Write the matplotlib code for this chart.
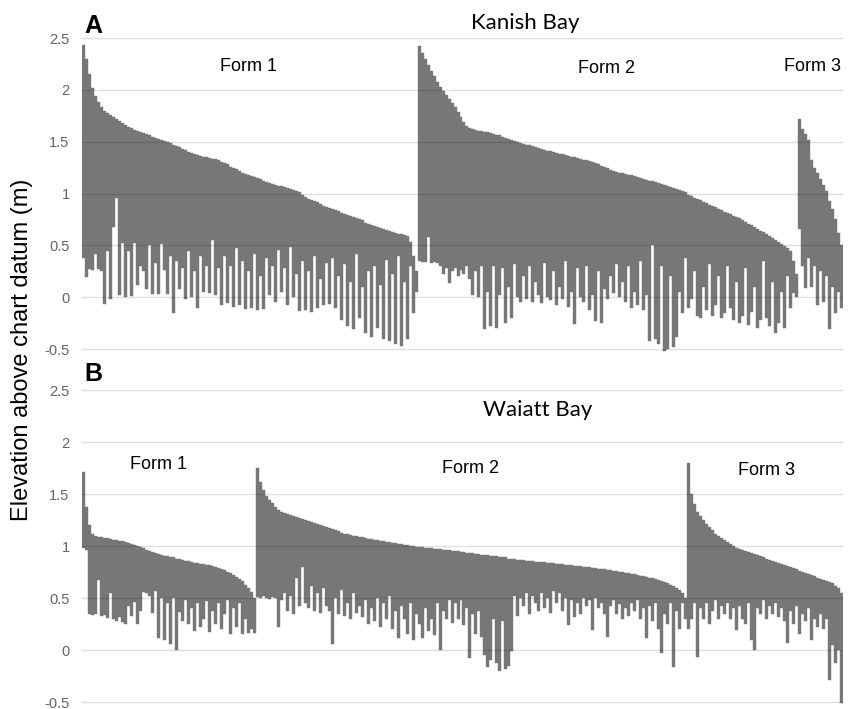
import numpy as np
import matplotlib
matplotlib.use("Agg")
import matplotlib.pyplot as plt

plt.rcParams['font.family'] = ['Liberation Sans', 'DejaVu Sans']

# Kanish Bay (panel A): top and bottom elevation of each bar, sorted per form
kanish_f1_top = [2.43, 2.30, 2.15, 2.02, 1.94, 1.88, 1.83, 1.80, 1.78, 1.76,
                 1.74, 1.72, 1.70, 1.68, 1.66, 1.64, 1.63, 1.61, 1.60, 1.59,
                 1.58, 1.57, 1.56, 1.55, 1.54, 1.53, 1.52, 1.51, 1.50, 1.49,
                 1.47, 1.46, 1.45, 1.43, 1.42, 1.40, 1.39, 1.38, 1.37, 1.36,
                 1.35, 1.35, 1.34, 1.33, 1.33, 1.32, 1.30, 1.29, 1.28, 1.26,
                 1.25, 1.24, 1.22, 1.20, 1.19, 1.18, 1.17, 1.16, 1.15, 1.14,
                 1.12, 1.11, 1.10, 1.09, 1.08, 1.07, 1.07, 1.06, 1.05, 1.04,
                 1.03, 1.02, 1.01, 0.99, 0.97, 0.95, 0.94, 0.93, 0.92, 0.90,
                 0.88, 0.87, 0.86, 0.85, 0.84, 0.83, 0.81, 0.80, 0.79, 0.78,
                 0.77, 0.76, 0.75, 0.74, 0.72, 0.71, 0.70, 0.69, 0.68, 0.67,
                 0.66, 0.65, 0.64, 0.63, 0.62, 0.61, 0.61, 0.60, 0.59, 0.53,
                 0.40, 0.25]
kanish_f1_low = [0.38, 0.19, 0.27, 0.26, 0.42, 0.27, 0.25, -0.07, 0.45, -0.02,
                 0.68, 0.96, 0.02, 0.52, 0.00, 0.45, 0.01, 0.52, 0.12, 0.30,
                 0.25, 0.08, 0.50, 0.03, 0.33, 0.03, 0.51, 0.26, 0.03, 0.40,
                 -0.15, 0.35, 0.08, 0.28, -0.02, 0.45, 0.00, 0.25, -0.10, 0.40,
                 0.05, 0.30, 0.04, 0.55, 0.02, 0.28, -0.08, 0.40, -0.06, 0.30,
                 -0.09, 0.47, -0.08, 0.35, -0.11, 0.25, -0.10, 0.42, -0.12, 0.20,
                 -0.11, 0.38, 0.02, 0.30, -0.05, 0.46, 0.05, 0.28, -0.08, 0.48,
                 0.00, 0.22, -0.13, 0.35, -0.12, 0.25, -0.14, 0.40, -0.10, 0.18,
                 -0.08, 0.33, -0.07, 0.38, -0.10, 0.20, -0.22, 0.32, -0.28, 0.15,
                 -0.31, 0.42, -0.20, 0.10, -0.35, 0.25, -0.38, 0.30, -0.30, 0.12,
                 -0.40, 0.36, -0.42, 0.22, -0.45, 0.40, -0.47, 0.15, -0.40, 0.30,
                 -0.15, 0.05]

kanish_f2_top = [2.42, 2.36, 2.30, 2.24, 2.18, 2.13, 2.08, 2.03, 1.99, 1.95,
                 1.91, 1.87, 1.83, 1.79, 1.74, 1.69, 1.65, 1.63, 1.62, 1.61,
                 1.60, 1.60, 1.59, 1.59, 1.58, 1.57, 1.56, 1.56, 1.55, 1.54,
                 1.53, 1.52, 1.51, 1.50, 1.49, 1.48, 1.47, 1.47, 1.46, 1.45,
                 1.44, 1.43, 1.42, 1.41, 1.41, 1.40, 1.39, 1.38, 1.38, 1.37,
                 1.36, 1.35, 1.35, 1.34, 1.33, 1.32, 1.32, 1.31, 1.30, 1.29,
                 1.28, 1.27, 1.26, 1.25, 1.23, 1.22, 1.21, 1.20, 1.20, 1.19,
                 1.18, 1.18, 1.17, 1.16, 1.15, 1.14, 1.13, 1.12, 1.12, 1.11,
                 1.10, 1.09, 1.08, 1.07, 1.06, 1.05, 1.04, 1.03, 1.02, 1.01,
                 0.99, 0.98, 0.96, 0.95, 0.94, 0.92, 0.91, 0.89, 0.88, 0.87,
                 0.85, 0.84, 0.82, 0.81, 0.80, 0.78, 0.77, 0.76, 0.74, 0.73,
                 0.71, 0.70, 0.68, 0.66, 0.64, 0.63, 0.61, 0.59, 0.57, 0.55,
                 0.53, 0.51, 0.49, 0.47, 0.45, 0.35, 0.22]
kanish_f2_low = [0.35, 0.34, 0.34, 0.58, 0.33, 0.34, 0.33, 0.30, 0.22, 0.28,
                 0.14, 0.25, 0.28, 0.20, 0.26, 0.22, 0.30, 0.18, 0.02, 0.25,
                 0.00, 0.30, -0.31, 0.05, -0.28, 0.30, -0.30, 0.02, 0.28, -0.25,
                 0.10, -0.20, 0.32, 0.00, -0.05, 0.20, -0.02, 0.30, -0.05, 0.15,
                 0.02, -0.06, 0.33, 0.00, -0.03, 0.25, -0.08, 0.10, -0.02, 0.35,
                 -0.09, 0.05, -0.26, 0.28, 0.00, -0.05, 0.30, -0.12, 0.02, -0.23,
                 0.25, -0.25, 0.08, -0.02, 0.20, 0.04, 0.32, 0.00, 0.15, -0.05,
                 0.30, -0.10, 0.05, -0.08, 0.35, -0.12, 0.02, -0.42, 0.50, -0.40,
                 -0.45, 0.30, -0.52, -0.50, 0.20, -0.48, -0.38, 0.05, -0.15, 0.38,
                 -0.10, -0.02, 0.25, -0.18, -0.20, 0.10, -0.12, 0.32, -0.18, -0.08,
                 0.20, -0.20, -0.15, 0.30, -0.10, -0.22, 0.15, -0.25, -0.18, 0.28,
                 -0.27, -0.14, 0.10, -0.30, -0.22, 0.35, -0.20, -0.28, 0.15, -0.35,
                 -0.25, 0.05, -0.30, 0.20, -0.10, 0.04, 0.00]

kanish_f3_top = [1.72, 1.62, 1.57, 1.52, 1.32, 1.25, 1.20, 1.14, 1.08, 1.02,
                 0.93, 0.85, 0.75, 0.62, 0.50]
kanish_f3_low = [0.66, 0.30, 0.09, 0.38, 0.10, 0.30, -0.08, 0.25, -0.05, 0.20,
                 -0.31, 0.10, -0.15, 0.05, -0.10]

# Waiatt Bay (panel B)
waiatt_f1_top = [1.71, 1.38, 1.20, 1.12, 1.10, 1.09, 1.09, 1.08, 1.08, 1.07,
                 1.06, 1.06, 1.05, 1.05, 1.04, 1.03, 1.02, 1.01, 1.00, 0.99,
                 0.98, 0.96, 0.95, 0.94, 0.93, 0.92, 0.91, 0.90, 0.90, 0.89,
                 0.89, 0.88, 0.88, 0.87, 0.86, 0.86, 0.85, 0.84, 0.84, 0.83,
                 0.83, 0.82, 0.82, 0.81, 0.80, 0.79, 0.78, 0.77, 0.75, 0.74,
                 0.72, 0.70, 0.68, 0.66, 0.63, 0.60, 0.56, 0.50]
waiatt_f1_low = [0.98, 0.96, 0.35, 0.34, 0.35, 0.67, 0.33, 0.34, 0.31, 0.55,
                 0.30, 0.28, 0.32, 0.27, 0.25, 0.42, 0.33, 0.46, 0.25, 0.38,
                 0.56, 0.55, 0.52, 0.36, 0.57, 0.12, 0.50, 0.10, 0.45, 0.06,
                 0.50, 0.00, 0.37, 0.28, 0.48, 0.25, 0.40, 0.18, 0.45, 0.22,
                 0.30, 0.47, 0.17, 0.38, 0.25, 0.45, 0.20, 0.35, 0.48, 0.15,
                 0.40, 0.22, 0.45, 0.15, 0.30, 0.16, 0.20, 0.16]

waiatt_f2_top = [1.75, 1.62, 1.54, 1.48, 1.44, 1.41, 1.38, 1.35, 1.33, 1.32,
                 1.31, 1.30, 1.29, 1.28, 1.27, 1.26, 1.25, 1.24, 1.23, 1.22,
                 1.21, 1.20, 1.19, 1.18, 1.17, 1.16, 1.15, 1.14, 1.13, 1.12,
                 1.12, 1.11, 1.10, 1.10, 1.09, 1.09, 1.08, 1.07, 1.07, 1.06,
                 1.06, 1.05, 1.05, 1.04, 1.04, 1.03, 1.03, 1.02, 1.02, 1.01,
                 1.01, 1.00, 1.00, 0.99, 0.99, 0.99, 0.98, 0.98, 0.98, 0.97,
                 0.97, 0.97, 0.96, 0.96, 0.96, 0.95, 0.95, 0.95, 0.94, 0.94,
                 0.93, 0.93, 0.93, 0.92, 0.92, 0.91, 0.91, 0.91, 0.90, 0.90,
                 0.90, 0.89, 0.89, 0.89, 0.88, 0.88, 0.88, 0.87, 0.87, 0.87,
                 0.86, 0.86, 0.86, 0.85, 0.85, 0.85, 0.85, 0.84, 0.84, 0.84,
                 0.83, 0.83, 0.83, 0.82, 0.82, 0.82, 0.81, 0.81, 0.81, 0.80,
                 0.80, 0.80, 0.79, 0.79, 0.78, 0.78, 0.78, 0.77, 0.77, 0.76,
                 0.76, 0.75, 0.75, 0.74, 0.74, 0.73, 0.73, 0.72, 0.71, 0.71,
                 0.70, 0.69, 0.69, 0.68, 0.67, 0.66, 0.65, 0.64, 0.63, 0.62,
                 0.60, 0.58, 0.55, 0.50]
waiatt_f2_low = [0.51, 0.50, 0.52, 0.50, 0.49, 0.51, 0.50, 0.22, 0.48, 0.55,
                 0.38, 0.52, 0.35, 0.69, 0.42, 0.80, 0.45, 0.40, 0.62, 0.38,
                 0.55, 0.36, 0.60, 0.42, 0.38, 0.06, 0.50, 0.35, 0.58, 0.33,
                 0.45, 0.30, 0.55, 0.36, 0.42, 0.32, 0.48, 0.25, 0.40, 0.28,
                 0.50, 0.22, 0.45, 0.30, 0.52, 0.20, 0.38, 0.12, 0.42, 0.30,
                 0.15, 0.45, 0.10, 0.35, 0.25, 0.12, 0.40, 0.18, 0.30, 0.14,
                 0.45, 0.00, 0.38, 0.30, 0.48, 0.26, 0.45, 0.30, 0.48, 0.24,
                 0.40, -0.08, 0.35, 0.15, 0.38, 0.13, -0.05, -0.16, -0.10, 0.30,
                 -0.12, -0.20, 0.28, -0.18, -0.15, -0.01, 0.52, 0.33, 0.50, 0.42,
                 0.55, 0.35, 0.52, 0.45, 0.38, 0.55, 0.40, 0.50, 0.36, 0.57,
                 0.45, 0.55, 0.38, 0.50, 0.24, 0.48, 0.32, 0.45, 0.35, 0.50,
                 0.42, 0.48, 0.19, 0.50, 0.40, 0.45, 0.35, 0.13, 0.42, 0.48,
                 0.35, 0.44, 0.30, 0.40, 0.33, 0.45, 0.38, 0.48, 0.30, 0.40,
                 0.12, 0.42, 0.28, 0.45, 0.20, -0.03, 0.35, 0.25, 0.45, -0.16,
                 0.38, 0.20, 0.45, 0.30]

waiatt_f3_top = [1.80, 1.50, 1.40, 1.33, 1.29, 1.25, 1.21, 1.18, 1.15, 1.12,
                 1.10, 1.08, 1.06, 1.04, 1.02, 1.00, 0.98, 0.97, 0.96, 0.95,
                 0.94, 0.93, 0.92, 0.91, 0.90, 0.89, 0.88, 0.87, 0.86, 0.85,
                 0.84, 0.83, 0.82, 0.81, 0.80, 0.79, 0.78, 0.76, 0.75, 0.74,
                 0.73, 0.72, 0.71, 0.69, 0.68, 0.67, 0.66, 0.65, 0.64, 0.62,
                 0.60, 0.55]
waiatt_f3_low = [0.20, 0.30, 0.45, -0.07, 0.40, 0.30, 0.45, 0.25, 0.38, 0.48,
                 0.30, 0.42, 0.35, 0.45, 0.30, 0.40, 0.19, 0.42, 0.30, 0.25,
                 0.45, 0.10, 0.00, 0.40, 0.35, 0.48, 0.30, 0.42, 0.35, 0.45,
                 0.32, 0.40, 0.28, 0.07, 0.38, 0.25, 0.42, 0.15, 0.35, 0.28,
                 0.40, 0.10, 0.30, 0.22, 0.35, 0.20, 0.30, -0.29, 0.05, -0.12,
                 0.00, -0.51]

y_ticks = [-0.5, 0, 0.5, 1, 1.5, 2, 2.5]
y_tick_labels = ['-0.5', '0', '0.5', '1', '1.5', '2', '2.5']

bar_color = '#777777'


def draw_panel(ax, tops, lows):
    top = np.concatenate([np.asarray(t, dtype=float) for t in tops])
    low = np.concatenate([np.asarray(l, dtype=float) for l in lows])
    x = np.arange(len(top))
    ax.bar(x, top - low, bottom=low, width=1.0, color=bar_color,
           edgecolor=bar_color, linewidth=0.3, zorder=1)
    ax.set_xlim(-0.5, len(top) - 0.5)
    ax.set_ylim(-0.55, 2.55)
    ax.set_yticks(y_ticks)
    ax.set_yticklabels(y_tick_labels)
    ax.set_xticks([])
    ax.tick_params(axis='y', length=0, pad=9, labelsize=10.5, labelcolor='#646464')
    for s in ax.spines.values():
        s.set_visible(False)
    ax.grid(axis='y', color='black', alpha=0.13, linewidth=1)
    ax.set_axisbelow(False)


fig = plt.figure(figsize=(8.48, 7.09), dpi=100)
ax_a = fig.add_axes([0.0967, 0.5004, 0.8974, 0.4533])
ax_b = fig.add_axes([0.0967, 0.0025, 0.8974, 0.4547])

draw_panel(ax_a, [kanish_f1_top, kanish_f2_top, kanish_f3_top],
           [kanish_f1_low, kanish_f2_low, kanish_f3_low])
draw_panel(ax_b, [waiatt_f1_top, waiatt_f2_top, waiatt_f3_top],
           [waiatt_f1_low, waiatt_f2_low, waiatt_f3_low])

W, H = 848, 709


def px(x, y):
    return x / W, 1 - y / H


fig.text(*px(84, 33), 'A', fontsize=18, fontweight='bold', ha='left', va='baseline')
fig.text(*px(84, 381), 'B', fontsize=18, fontweight='bold', ha='left', va='baseline')
fig.text(*px(525, 29), 'Kanish Bay', fontsize=16, family=['Lato', 'DejaVu Sans'],
         ha='center', va='baseline')
fig.text(*px(538, 416), 'Waiatt Bay', fontsize=16, family=['Lato', 'DejaVu Sans'],
         ha='center', va='baseline')

forms = [(248, 71, 'Form 1'), (606, 73, 'Form 2'), (812, 71, 'Form 3'),
         (159, 469, 'Form 1'), (471, 473, 'Form 2'), (767, 475, 'Form 3')]
for fx, fy, txt in forms:
    fig.text(*px(fx, fy), txt, fontsize=13, ha='center', va='baseline')

fig.text(*px(22, 350), 'Elevation above chart datum (m)', fontsize=17,
         rotation=90, ha='center', va='center')

fig.savefig('out.png', dpi=100)
